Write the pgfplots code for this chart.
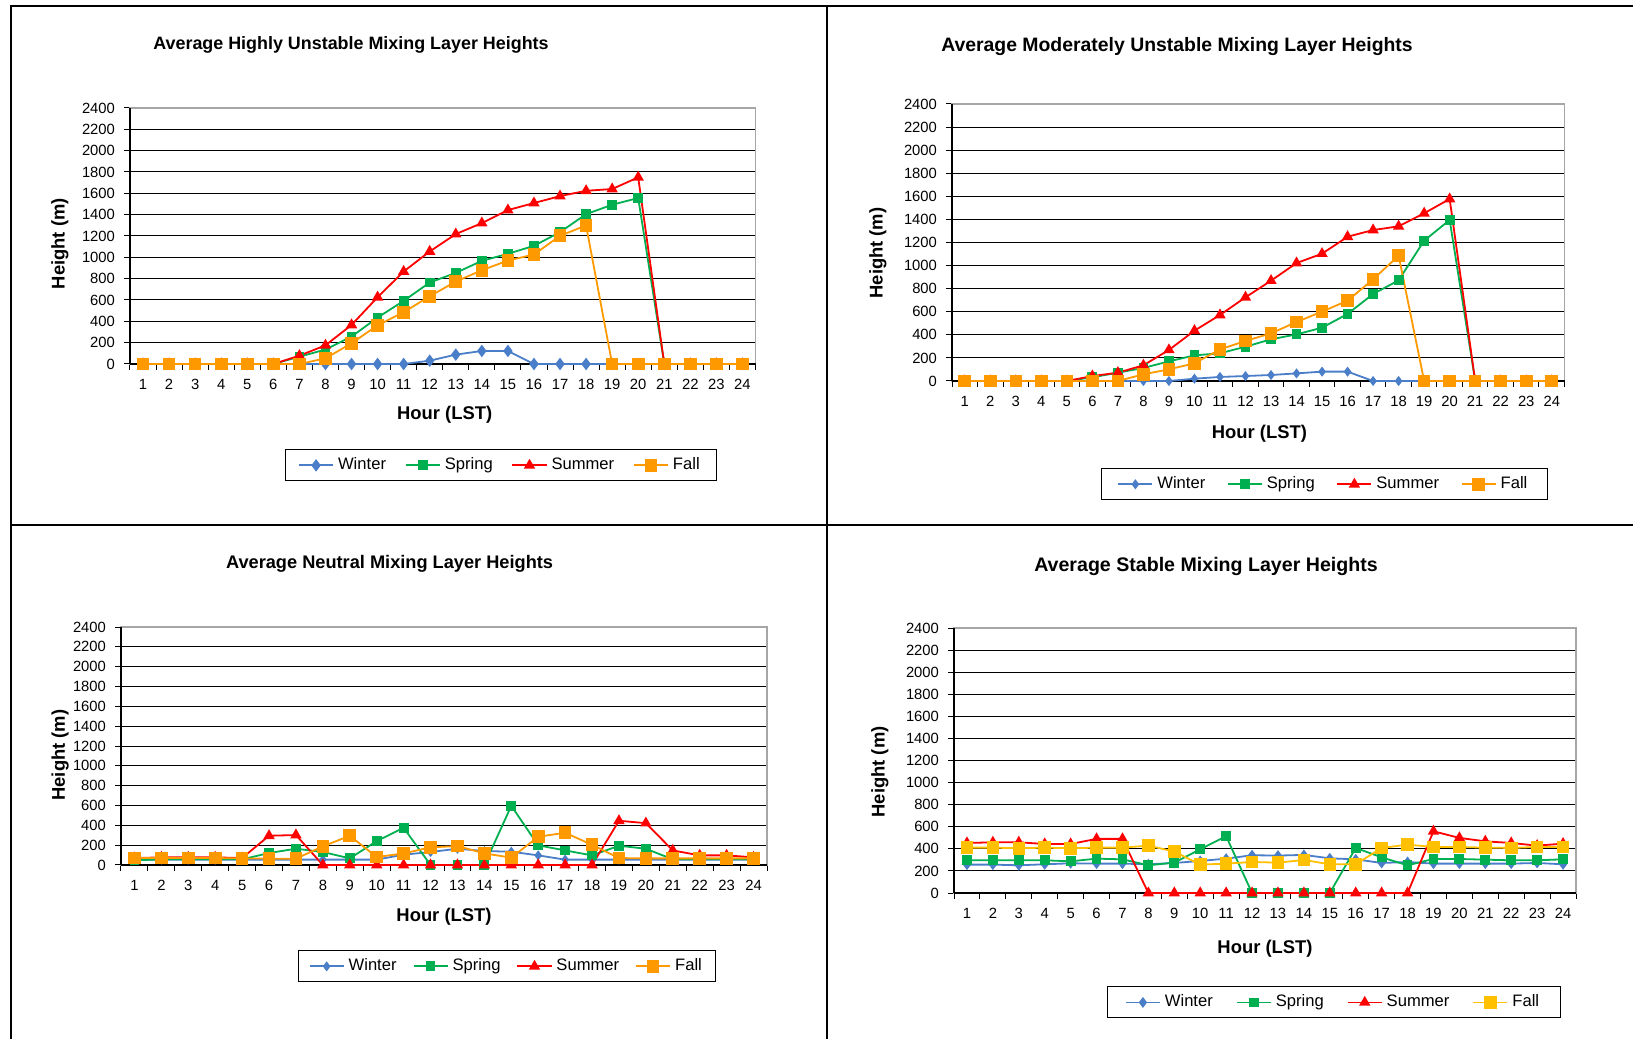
\documentclass[border=0pt]{standalone}
\usepackage{fontspec}
\setmainfont{Liberation Sans}
\usepackage{pgfplots}
\usepackage{pgfplotstable}
\pgfplotsset{compat=1.18}

\definecolor{wint}{RGB}{74,126,200}
\definecolor{sprg}{RGB}{0,176,80}
\definecolor{summ}{RGB}{255,0,0}
\definecolor{fallc}{RGB}{255,153,0}
\definecolor{fallb}{RGB}{255,192,0}

% hour winter spring summer fall
\pgfplotstableread{
hour W Sp Su F
1 0 0 0 0
2 0 0 0 0
3 0 0 0 0
4 0 0 0 0
5 0 0 0 0
6 0 0 0 0
7 0 69 78 0
8 0 135 175 53
9 0 257 366 194
10 0 435 626 363
11 0 592 867 485
12 31 764 1055 635
13 88 854 1218 773
14 122 967 1321 879
15 122 1033 1443 970
16 0 1108 1509 1026
17 0 1236 1574 1202
18 0 1405 1624 1299
19 0 1493 1640 0
20 0 1556 1750 0
21 0 0 0 0
22 0 0 0 0
23 0 0 0 0
24 0 0 0 0
}\highly

\pgfplotstableread{
hour W Sp Su F
1 0 0 0 0
2 0 0 0 0
3 0 0 0 0
4 0 0 0 0
5 0 0 0 0
6 0 32 43 0
7 0 72 72 0
8 0 113 136 58
9 0 170 269 101
10 20 222 436 153
11 35 240 572 274
12 43 297 725 347
13 52 361 869 413
14 66 404 1022 511
15 81 462 1103 601
16 81 581 1250 696
17 0 754 1308 881
18 0 872 1340 1086
19 0 1216 1453 0
20 0 1395 1577 0
21 0 0 0 0
22 0 0 0 0
23 0 0 0 0
24 0 0 0 0
}\moder

\pgfplotstableread{
hour W Sp Su F
1 54 47 70 70
2 54 57 77 70
3 54 57 77 70
4 54 57 77 70
5 54 57 70 67
6 54 121 295 64
7 54 164 302 64
8 54 131 0 188
9 54 67 0 295
10 54 241 0 80
11 104 375 0 117
12 131 0 0 178
13 164 0 0 191
14 141 0 0 117
15 134 597 0 74
16 97 198 0 285
17 54 147 0 325
18 54 97 0 204
19 54 194 446 70
20 54 164 422 67
21 54 57 147 67
22 54 57 97 67
23 54 57 97 67
24 54 57 77 67
}\neutral

\pgfplotstableread{
hour W Sp Su F
1 257 296 453 411
2 257 296 459 411
3 251 296 459 405
4 260 296 444 411
5 269 287 444 405
6 266 311 490 411
7 266 305 490 411
8 260 251 0 429
9 272 275 0 375
10 290 396 0 257
11 311 514 0 266
12 342 0 0 281
13 339 0 0 275
14 345 0 0 299
15 314 0 0 260
16 305 408 0 260
17 272 323 0 408
18 281 251 0 438
19 266 308 559 417
20 266 308 499 417
21 266 302 468 411
22 266 296 453 408
23 272 296 429 417
24 260 305 447 417
}\stable

\pgfplotsset{
  panel/.style={
    scale only axis, clip=false,
    xmin=0.5, xmax=24.5, ymin=0, ymax=2400,
    xtick={1,...,24}, ytick={0,200,...,2400},
    minor xtick={0.5,1.5,...,24.5},
    major x tick style={draw=none},
    minor x tick style={black, line width=0.5pt},
    minor tick length=3pt, major tick length=3pt,
    y tick style={black, line width=0.5pt},
    tick align=outside, tick pos=left,
    ymajorgrids, major grid style={black, line width=0.5pt},
    axis line style={draw=gray!70, line width=0.6pt},
    /pgf/number format/assume math mode=true,
    /pgf/number format/1000 sep={},
    ticklabel style={font=\fontsize{7.4}{8}\selectfont},
    xticklabel style={yshift=-1pt},
    yticklabel style={xshift=-1pt},
    label style={font=\fontsize{9.2}{10}\selectfont\bfseries},
    legend columns=4,
    legend style={anchor=center, draw=black, line width=0.5pt,
      font=\fontsize{8.3}{9}\selectfont, inner ysep=2pt},
    legend cell align=left,
  },
  legsep/.style 2 args={legend style={inner xsep=#2,
      /tikz/every even column/.append style={column sep=#1}}},
  wst/.style={color=wint, line width=0.9pt, mark=diamond*, mark size=2.4pt},
  spst/.style={color=sprg, line width=0.9pt, mark=square*, mark size=2pt},
  sust/.style={color=summ, line width=0.9pt, mark=triangle*, mark size=2.4pt},
  fast/.style={color=fallc, line width=0.9pt, mark=square*, mark size=2.7pt},
}

\newcommand{\baseaxes}{%
  \draw[black, line width=0.6pt] (rel axis cs:0,0) -- (rel axis cs:1,0);
  \draw[black, line width=0.6pt] (rel axis cs:0,0) -- (rel axis cs:0,1);}

\begin{document}
\begin{tikzpicture}
\path[use as bounding box] (0,0) rectangle (816.5pt,519.5pt);
\draw[line width=1pt] (5.5pt,0) -- (5.5pt,516.5pt) -- (816.5pt,516.5pt);
\draw[line width=1pt] (413.5pt,0) -- (413.5pt,516.5pt);
\draw[line width=1pt] (5.5pt,257pt) -- (816.5pt,257pt);

\tikzset{ttl/.style={font=\fontsize{#1}{11}\selectfont\bfseries, anchor=center}}
\node[ttl=8.95] at (175.5pt,497pt) {Average Highly Unstable Mixing Layer Heights};
\node[ttl=9.7] at (588.5pt,496pt) {Average Moderately Unstable Mixing Layer Heights};
\node[ttl=9.1] at (194.8pt,237.7pt) {Average Neutral Mixing Layer Heights};
\node[ttl=9.8] at (603pt,236.2pt) {Average Stable Mixing Layer Heights};

% top left
\begin{axis}[panel, at={(65pt,337.5pt)}, anchor=south west,
  width=312.75pt, height=128pt,
  xlabel={Hour (LST)}, ylabel={Height (m)},
  xlabel style={at={(axis description cs:0.503,-0.197)}, anchor=center},
  ylabel style={at={(axis description cs:-0.112,0.47)}, anchor=center},
  legsep={7.4pt}{6.4pt},
  legend style={at={(0.593,-0.396)}}]
\baseaxes
\addplot[wst] table[x=hour,y=W] {\highly};
\addplot[spst] table[x=hour,y=Sp] {\highly};
\addplot[sust] table[x=hour,y=Su] {\highly};
\addplot[fast] table[x=hour,y=F] {\highly};
\legend{Winter,Spring,Summer,Fall}
\end{axis}

% top right
\begin{axis}[panel, at={(476pt,329pt)}, anchor=south west,
  width=306.25pt, height=138.5pt,
  xlabel={Hour (LST)}, ylabel={Height (m)},
  xlabel style={at={(axis description cs:0.502,-0.189)}, anchor=center},
  ylabel style={at={(axis description cs:-0.121,0.462)}, anchor=center},
  legsep={8.8pt}{7.8pt},
  legend style={at={(0.608,-0.373)}}]
\baseaxes
\addplot[wst, mark size=1.8pt] table[x=hour,y=W] {\moder};
\addplot[spst] table[x=hour,y=Sp] {\moder};
\addplot[sust] table[x=hour,y=Su] {\moder};
\addplot[fast] table[x=hour,y=F] {\moder};
\legend{Winter,Spring,Summer,Fall}
\end{axis}

% bottom left
\begin{axis}[panel, at={(60.5pt,87pt)}, anchor=south west,
  width=323pt, height=119pt,
  xlabel={Hour (LST)}, ylabel={Height (m)},
  xlabel style={at={(axis description cs:0.5,-0.216)}, anchor=center},
  ylabel style={at={(axis description cs:-0.094,0.462)}, anchor=center},
  legsep={6pt}{5pt},
  legend style={at={(0.598,-0.426)}}]
\baseaxes
\addplot[wst, mark size=1.8pt] table[x=hour,y=W] {\neutral};
\addplot[spst] table[x=hour,y=Sp] {\neutral};
\addplot[sust] table[x=hour,y=Su] {\neutral};
\addplot[fast] table[x=hour,y=F] {\neutral};
\legend{Winter,Spring,Summer,Fall}
\end{axis}

% bottom right
\begin{axis}[panel, at={(477pt,73pt)}, anchor=south west,
  width=311pt, height=132.5pt,
  xlabel={Hour (LST)}, ylabel={Height (m)},
  xlabel style={at={(axis description cs:0.5,-0.21)}, anchor=center},
  ylabel style={at={(axis description cs:-0.119,0.457)}, anchor=center},
  legsep={9.5pt}{8.5pt},
  legend style={at={(0.611,-0.413)}}]
\baseaxes
\addplot[wst, mark size=2pt] table[x=hour,y=W] {\stable};
\addplot[spst] table[x=hour,y=Sp] {\stable};
\addplot[sust] table[x=hour,y=Su] {\stable};
\addplot[fast, color=fallb] table[x=hour,y=F] {\stable};
\legend{Winter,Spring,Summer,Fall}
\end{axis}
\end{tikzpicture}
\end{document}
